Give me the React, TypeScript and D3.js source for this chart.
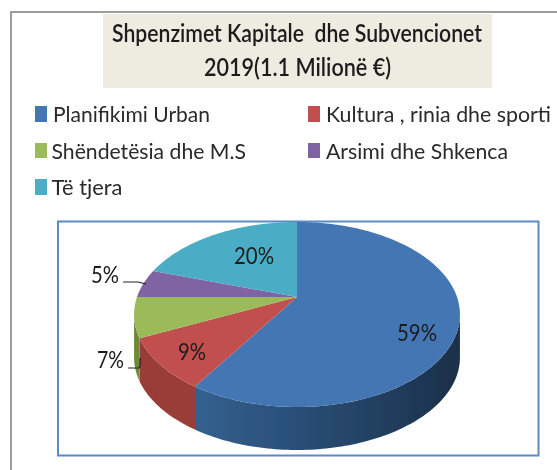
import React from "react";
import * as d3 from "d3";

const categories = ["Planifikimi Urban", "Kultura , rinia dhe sporti", "Shëndetësia dhe M.S", "Arsimi dhe Shkenca", "Të tjera"];
const values = [59, 9, 7, 5, 20];
const colors = ["#4476b4", "#c0504d", "#9bbb59", "#8064a2", "#4bacc6"];
const sideColors = ["#2c5480", "#9a3c39", "#6f8a3a", "#5c4878", "#35809a"];
const titleLines = ["Shpenzimet Kapitale  dhe Subvencionet", "2019(1.1 Milionë €)"];
const labels = ["59%", "9%", "7%", "5%", "20%"];

const cx = 297, cy = 297, A = 160, B = 89.2, k = 0.189, depth = 43;
const project = (t: number, r = 1): [number, number] => {
  const X = r * Math.sin(t), Y = -r * Math.cos(t), w = 1 - k * Y;
  return [cx + (A * X) / w, cy + (B * Y) / w];
};
const arcs = d3.pie<number>().value((d) => d).sort(null)(values);
const sweep = (a: number, b: number) => {
  const n = Math.max(2, Math.ceil((b - a) / 0.02));
  return d3.range(n + 1).map((i) => a + ((b - a) * i) / n);
};
const line = d3.line();
const visA = Math.acos(-k), visB = 2 * Math.PI - visA;

// swatch x, swatch y, swatch height, text x, text baseline, text width
const legendPos: number[][] = [
  [35, 106, 16, 53, 122, 157],
  [308, 106, 16, 326, 122, 225],
  [35, 143, 15, 51.5, 159, 194.5],
  [308, 143, 15, 326, 159, 182],
  [35, 179, 16, 51.5, 195, 71],
];
// text x, baseline, width
const labelPos: number[][] = [[397, 341, 40], [178, 360, 28], [97, 368, 27], [91, 283, 28], [234, 264, 40]];

export default function App() {
  return (
    <svg width={557} height={470} style={{ position: "absolute", left: 0, top: 0, background: "#fff" }}>
      <defs>
        <filter id="soft" x="-5%" y="-5%" width="110%" height="110%"><feGaussianBlur stdDeviation="0.6" /></filter>
        <linearGradient id="side0" x1="0" x2="1" y1="0" y2="0">
          <stop offset="0" stopColor="#34608f" />
          <stop offset="0.35" stopColor="#2b5079" />
          <stop offset="1" stopColor="#1a3049" />
        </linearGradient>
      </defs>
      <g filter="url(#soft)">
        <path d="M557,12 H11 V470" fill="none" stroke="#9c9c9c" strokeWidth={2} />
        <rect x={103} y={14} width={389} height={74} fill="#eeece1" />
        {titleLines.map((t, i) => (
          <text key={i} x={i === 0 ? 112 : 204} y={42 + i * 34} fontFamily="Lato" fontWeight={600} fontSize={24} fill="#1c1c1c"
            textLength={i === 0 ? 370 : 187} lengthAdjust="spacingAndGlyphs" xmlSpace="preserve">{t}</text>
        ))}
        {categories.map((c, i) => {
          const [sx, sy, sh, tx, ty, len] = legendPos[i];
          return (
            <g key={c}>
              <rect x={sx} y={sy} width={12} height={sh} fill={colors[i]} />
              <text x={tx} y={ty} fontFamily="Lato" fontSize={22} fill="#2a2a2a" textLength={len} lengthAdjust="spacingAndGlyphs">{c}</text>
            </g>
          );
        })}
        <rect x={58} y={221.5} width={480.5} height={234} fill="#fff" stroke="#5b8bc4" strokeWidth={2} />
        {arcs.map((a, i) => {
          const s = Math.max(a.startAngle, visA), e = Math.min(a.endAngle, visB);
          if (e <= s) return null;
          const top = sweep(s, e).map((t) => project(t));
          const bottom = top.map(([x, y]) => [x, y + depth] as [number, number]).reverse();
          return <path key={i} d={line([...top, ...bottom]) + "Z"} fill={i === 0 ? "url(#side0)" : sideColors[i]} />;
        })}
        {arcs.map((a, i) => (
          <path key={i} d={line([[cx, cy], ...sweep(a.startAngle, a.endAngle).map((t) => project(t))]) + "Z"} fill={colors[i]} />
        ))}
        <path d={line([[128, 368], [139, 368], [140, 366], [140, 358]]) ?? ""} fill="none" stroke="#222" strokeWidth={1.2} />
        <path d={line([[123, 282], [138, 282], [146, 284]]) ?? ""} fill="none" stroke="#222" strokeWidth={1.2} />
        {labels.map((l, i) => (
          <text key={l} x={labelPos[i][0]} y={labelPos[i][1]} fontFamily="Lato" fontSize={23} fill="#1c1c1c"
            textLength={labelPos[i][2]} lengthAdjust="spacingAndGlyphs">{l}</text>
        ))}
      </g>
    </svg>
  );
}
